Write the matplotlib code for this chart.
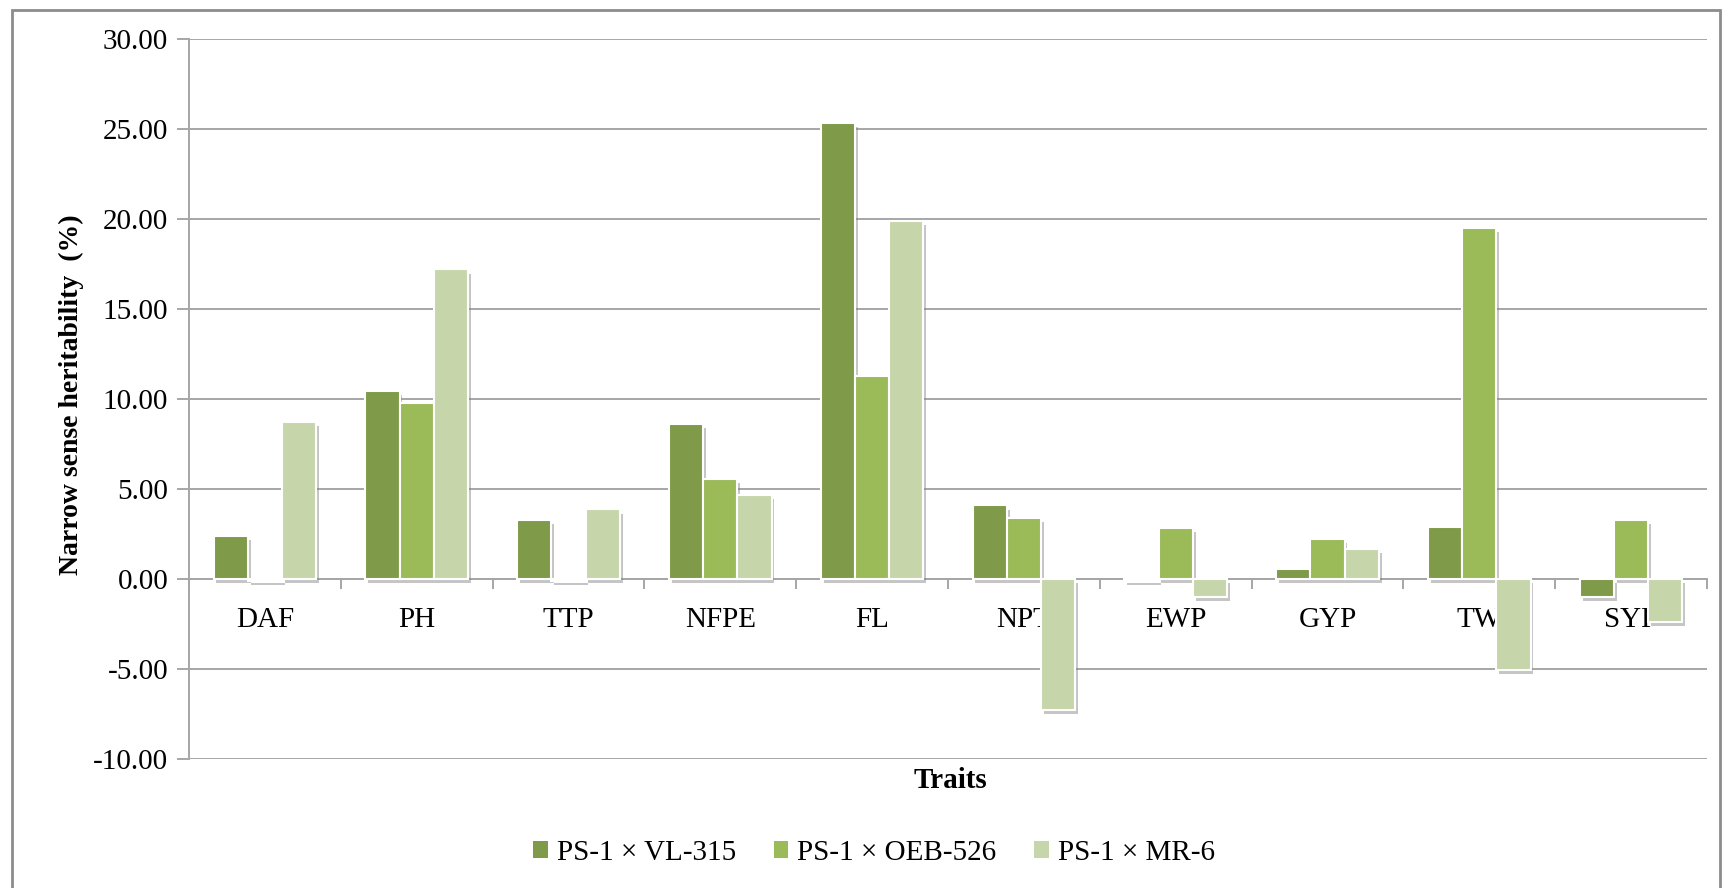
import numpy as np
import matplotlib
matplotlib.use("Agg")
import matplotlib.pyplot as plt
import matplotlib.patheffects as pe
from matplotlib.patches import Rectangle, Patch

traits = ["DAF", "PH", "TTP", "NFPE", "FL", "NPT", "EWP", "GYP", "TW", "SYP"]
vl315 = [2.41, 10.44, 3.26, 8.60, 25.35, 4.09, -0.10, 0.56, 2.90, -0.98]
oeb526 = [-0.10, 9.79, -0.10, 5.54, 11.30, 3.40, 2.82, 2.24, 19.50, 3.30]
mr6 = [8.72, 17.20, 3.87, 4.67, 19.90, -7.28, -0.98, 1.67, -5.05, -2.40]
series = ["PS-1 \u00d7 VL-315", "PS-1 \u00d7 OEB-526", "PS-1 \u00d7 MR-6"]
colors = ["#7F9A48", "#9BBB59", "#C6D6AA"]

plt.rcParams["font.family"] = ["Liberation Serif", "DejaVu Serif"]

fig = plt.figure(figsize=(17.28, 8.88), dpi=100)
ax = fig.add_axes([189 / 1728, 1 - 759 / 888, (1707 - 189) / 1728, (759 - 39) / 888])

x = np.arange(len(traits))
w = 0.225
shadow = [pe.SimplePatchShadow(offset=(2, -3), shadow_rgbFace="#808080", alpha=0.45), pe.Normal()]
for i, (vals, c) in enumerate(zip([vl315, oeb526, mr6], colors)):
    bars = ax.bar(x + (i - 1) * w, vals, w, color=c, edgecolor="white",
                  linewidth=1.5, zorder=3)
    for b in bars:
        b.set_path_effects(shadow)

ax.set_xlim(-0.5, len(traits) - 0.5)
ax.set_ylim(-10, 30)
ax.set_yticks(np.arange(-10, 31, 5))
ax.set_yticklabels(["%.2f" % v for v in np.arange(-10, 31, 5)], fontsize=21)
ax.grid(True, axis="y", color="#A6A6A6", linewidth=1.4, zorder=0)
ax.tick_params(axis="y", length=9, color="#A6A6A6", width=1.4, pad=6)

# category axis sits on zero, ticks between categories
ax.spines["bottom"].set_position(("data", 0))
ax.spines["bottom"].set_color("#A6A6A6")
ax.spines["bottom"].set_linewidth(1.4)
ax.spines["bottom"].set_zorder(2)
ax.spines["left"].set_color("#A6A6A6")
ax.spines["left"].set_linewidth(1.4)
for s in ("top", "right"):
    ax.spines[s].set_visible(False)
ax.set_xticks(np.arange(-0.5, len(traits), 1.0))
ax.set_xticklabels([])
ax.tick_params(axis="x", which="major", length=7, color="#A6A6A6", width=1.4, direction="out")
ax.set_xticks(x, minor=True)
ax.set_xticklabels(traits, minor=True, fontsize=21)
ax.tick_params(axis="x", which="minor", length=0, pad=20)
for t in ax.get_xticklabels(minor=True):
    t.set_zorder(1)

fig.text(71 / 1728, 1 - 395 / 888, "Narrow sense heritability  (%)", rotation=90,
         ha="center", va="center", fontsize=20, fontweight="bold")
fig.text(950 / 1728, 1 - 780 / 888, "Traits", ha="center", va="center",
         fontsize=21, fontweight="bold")

handles = [Patch(facecolor=c, edgecolor="none") for c in colors]
fig.legend(handles, series, loc="center", bbox_to_anchor=(874 / 1728, 1 - 853 / 888), ncol=3,
           frameon=False, fontsize=21, handlelength=0.5, handleheight=0.55,
           handletextpad=0.3, columnspacing=1.3)

fig.patches.append(Rectangle((12 / 1728, -0.01), (1720 - 12) / 1728, 1 - 10 / 888 + 0.01,
                             transform=fig.transFigure, fill=False,
                             edgecolor="#8C8C8C", linewidth=2))

fig.savefig("out.png", dpi=100)
